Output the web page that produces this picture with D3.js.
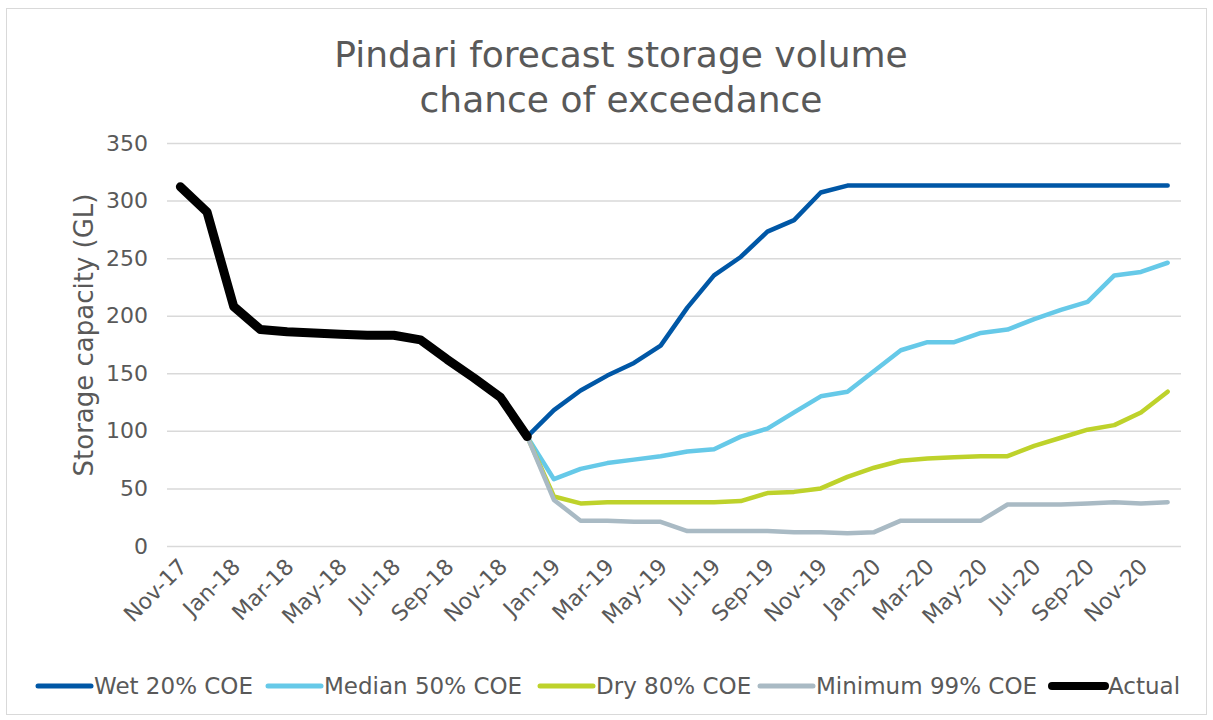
<!DOCTYPE html>
<html lang="en">
<head>
	<title>Pindari forecast storage</title>
	<meta charset="utf-8" />
	<script src="https://cdnjs.cloudflare.com/ajax/libs/d3/7.8.5/d3.min.js"></script>
	<style>
		body { margin: 0; background: #fff; }
		text { font-family: "DejaVu Sans", sans-serif; fill: #595959; }
	</style>
</head>
<body>
	<svg width="1213" height="720"></svg>
	<script>
		let months = ["Nov-17", "Dec-17", "Jan-18", "Feb-18", "Mar-18", "Apr-18", "May-18", "Jun-18",
			"Jul-18", "Aug-18", "Sep-18", "Oct-18", "Nov-18", "Dec-18", "Jan-19", "Feb-19", "Mar-19",
			"Apr-19", "May-19", "Jun-19", "Jul-19", "Aug-19", "Sep-19", "Oct-19", "Nov-19", "Dec-19",
			"Jan-20", "Feb-20", "Mar-20", "Apr-20", "May-20", "Jun-20", "Jul-20", "Aug-20", "Sep-20",
			"Oct-20", "Nov-20", "Dec-20"];
		let yTicks = [0, 50, 100, 150, 200, 250, 300, 350];

		// actual runs Nov-17 to Dec-18, the forecasts Dec-18 to Dec-20
		let actual = [312, 290, 208, 188, 186, 185, 184, 183, 183, 179, 162, 146, 129, 95];
		let wet = [95, 118, 135, 148, 159, 174, 207, 235, 251, 273, 283, 307, 313,
			313, 313, 313, 313, 313, 313, 313, 313, 313, 313, 313, 313];
		let median = [95, 58, 67, 72, 75, 78, 82, 84, 95, 102, 116, 130, 134,
			152, 170, 177, 177, 185, 188, 197, 205, 212, 235, 238, 246];
		let dry = [95, 43, 37, 38, 38, 38, 38, 38, 39, 46, 47, 50, 60,
			68, 74, 76, 77, 78, 78, 87, 94, 101, 105, 116, 134];
		let minimum = [95, 40, 22, 22, 21, 21, 13, 13, 13, 13, 12, 12, 11,
			12, 22, 22, 22, 22, 36, 36, 36, 37, 38, 37, 38];

		let series = [
			{name: "Wet 20% COE", color: "#0057a6", width: 4.5, start: 13, values: wet},
			{name: "Median 50% COE", color: "#66c9e8", width: 4.5, start: 13, values: median},
			{name: "Dry 80% COE", color: "#bed22b", width: 4.5, start: 13, values: dry},
			{name: "Minimum 99% COE", color: "#a9bac4", width: 4.5, start: 13, values: minimum},
			{name: "Actual", color: "#000000", width: 9, start: 0, values: actual}
		];

		let svg = d3.select('svg');

		svg.append('rect')
			.attr('x', 6.5).attr('y', 8.5)
			.attr('width', 1200).attr('height', 706)
			.attr('fill', 'none')
			.attr('stroke', '#d9d9d9');

		let x = d3.scaleBand().domain(months).range([167, 1181]);
		let y = d3.scaleLinear().domain([0, 350]).range([546, 143]);

		// title
		svg.append('text')
			.attr('text-anchor', 'middle')
			.attr('font-size', 36)
			.selectAll('tspan')
			.data(["Pindari forecast storage volume", "chance of exceedance"])
			.enter()
			.append('tspan')
			.attr('x', 621)
			.attr('y', (d, i) => 67 + i * 45)
			.text(d => d);

		// gridlines + y labels
		let yAxis = svg.append('g')
			.attr('transform', 'translate(167,0)')
			.call(d3.axisLeft(y).tickValues(yTicks).tickSize(-1014).tickPadding(19));
		yAxis.select('.domain').remove();
		yAxis.selectAll('.tick line').attr('stroke', '#d9d9d9').attr('stroke-width', 1.5);
		yAxis.selectAll('.tick text')
			.attr('font-size', 22)
			.attr('font-family', '"DejaVu Sans", sans-serif')
			.attr('fill', '#595959');

		svg.append('text')
			.attr('transform', 'translate(93,335) rotate(-90)')
			.attr('text-anchor', 'middle')
			.attr('font-size', 26)
			.text("Storage capacity (GL)");

		// x labels, every second month
		svg.selectAll('text.month')
			.data(months.filter((d, i) => i % 2 == 0))
			.enter()
			.append('text')
			.attr('class', 'month')
			.attr('text-anchor', 'end')
			.attr('font-size', 22)
			.attr('transform', d => 'translate(' + (x(d) + x.bandwidth() / 2 + 8) + ',568) rotate(-45)')
			.text(d => d);

		let line = d3.line()
			.defined(d => d.v != null)
			.x(d => x(d.m) + x.bandwidth() / 2)
			.y(d => y(d.v));

		svg.selectAll('path.series')
			.data(series)
			.enter()
			.append('path')
			.attr('class', 'series')
			.attr('fill', 'none')
			.attr('stroke', d => d.color)
			.attr('stroke-width', d => d.width)
			.attr('stroke-linejoin', 'round')
			.attr('stroke-linecap', 'round')
			.attr('d', d => line(d.values.map((v, i) => ({m: months[d.start + i], v: v}))));

		// legend
		let legendX = [38, 268, 540, 760, 1052];
		let legend = svg.selectAll('g.legend')
			.data(series)
			.enter()
			.append('g')
			.attr('class', 'legend')
			.attr('transform', (d, i) => 'translate(' + legendX[i] + ',686)');
		legend.append('line')
			.attr('x1', 0).attr('x2', 53)
			.attr('stroke', d => d.color)
			.attr('stroke-width', d => d.width == 9 ? 8 : 5)
			.attr('stroke-linecap', 'round');
		legend.append('text')
			.attr('x', 56)
			.attr('y', 8)
			.attr('font-size', 23)
			.text(d => d.name);
	</script>
</body>
</html>
